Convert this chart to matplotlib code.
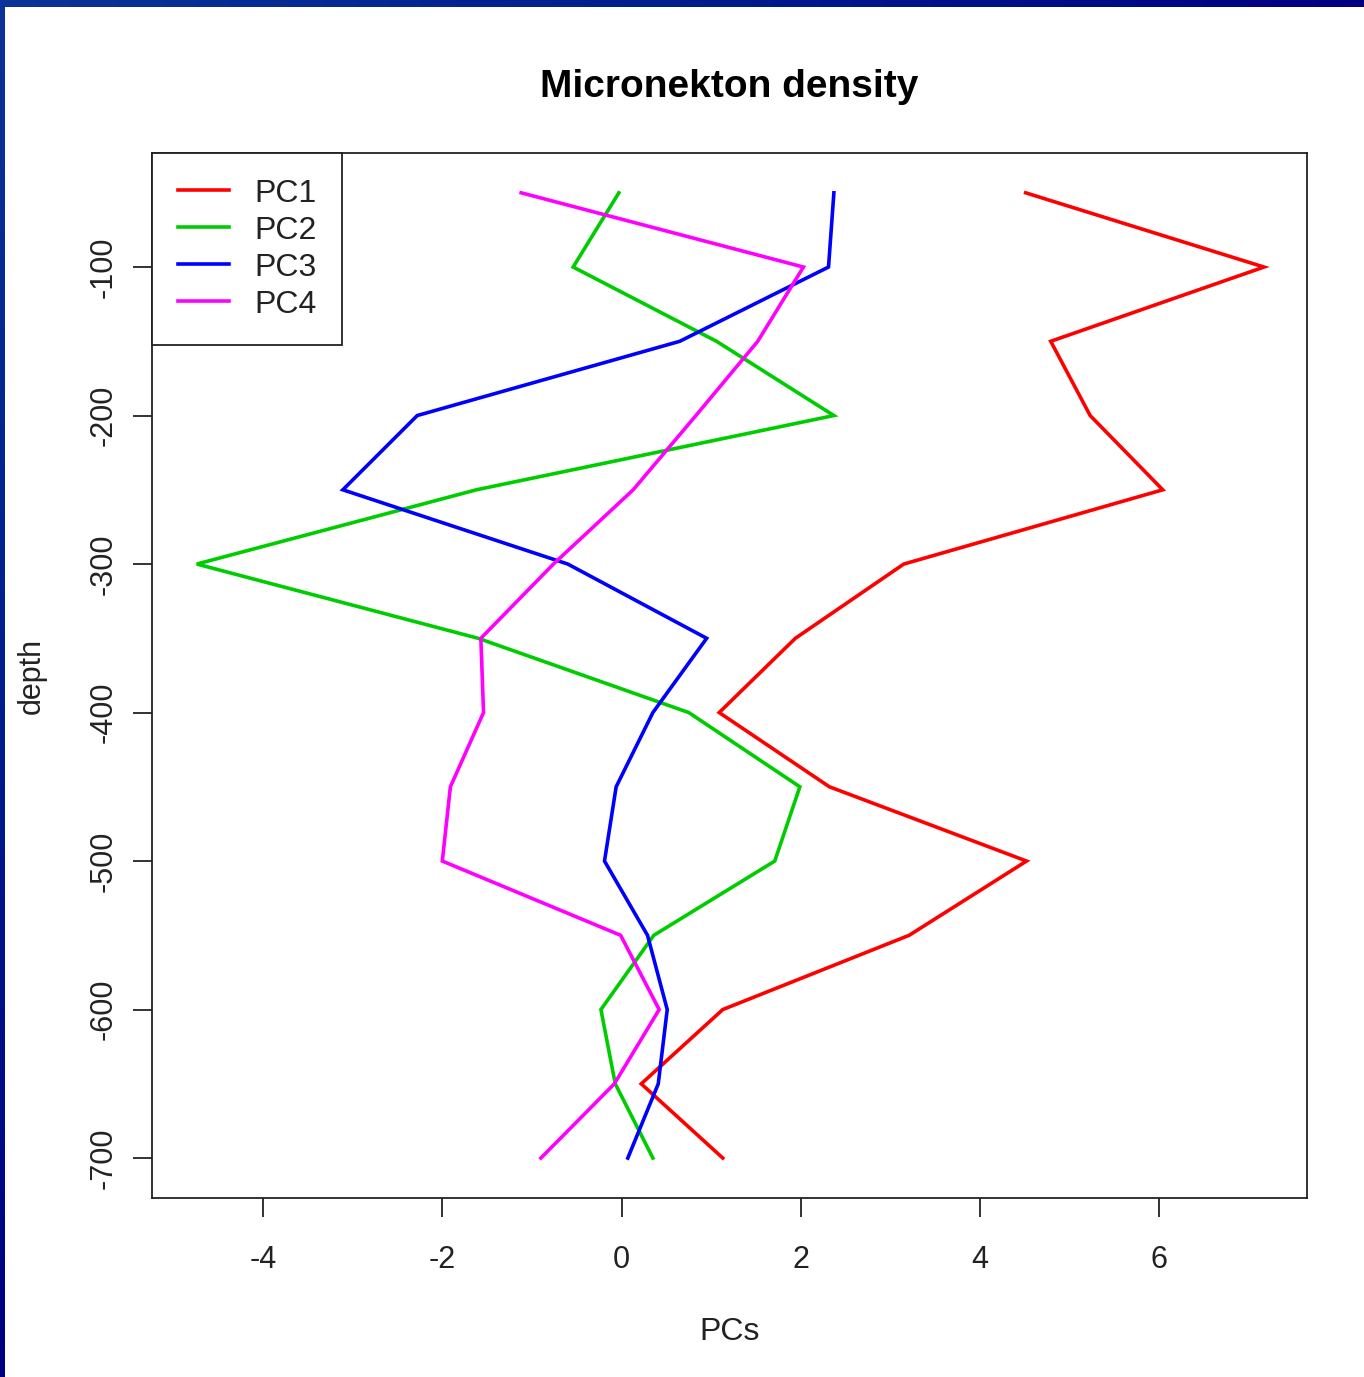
import matplotlib.pyplot as plt
import numpy as np

plt.rcParams['font.family'] = ['Liberation Sans', 'DejaVu Sans']
plt.rcParams['axes.unicode_minus'] = False

depth = [-50, -100, -150, -200, -250, -300, -350, -400, -450, -500, -550, -600, -650, -700]
pc1 = [4.51, 7.17, 4.79, 5.23, 6.04, 3.15, 1.94, 1.09, 2.32, 4.52, 3.21, 1.13, 0.22, 1.13]
pc2 = [-0.03, -0.54, 1.06, 2.37, -1.62, -4.74, -1.60, 0.75, 1.99, 1.71, 0.36, -0.23, -0.07, 0.35]
pc3 = [2.37, 2.31, 0.65, -2.28, -3.11, -0.60, 0.95, 0.35, -0.06, -0.19, 0.29, 0.51, 0.41, 0.07]
pc4 = [-1.12, 2.03, 1.52, 0.83, 0.13, -0.76, -1.57, -1.54, -1.91, -2.00, -0.01, 0.42, -0.08, -0.90]

names = ['PC1', 'PC2', 'PC3', 'PC4']
colors = ['#FF0000', '#00CD00', '#0000FF', '#FF00FF']
txt = '#222222'

fig = plt.figure(figsize=(13.64, 13.77), dpi=100)
ax = fig.add_axes([152/1364, 1 - 1198/1377, (1307-152)/1364, (1198-153)/1377])

for vals, name, col in zip([pc1, pc2, pc3, pc4], names, colors):
    ax.plot(vals, depth, color=col, lw=2.6, label=name, solid_joinstyle='miter')

ax.set_xlim(-5.24, 7.65)
ax.set_ylim(-726.9, -23.2)
ax.set_xticks([-4, -2, 0, 2, 4, 6])
ax.set_yticks([-100, -200, -300, -400, -500, -600, -700])
ax.set_yticklabels(['-100', '-200', '-300', '-400', '-500', '-600', '-700'],
                   rotation=90, va='center')
ax.tick_params(direction='out', length=14, width=1.3, labelsize=22,
               colors=txt, pad=20)
ax.tick_params(axis='y', pad=10)
for s in ax.spines.values():
    s.set_linewidth(1.3)
    s.set_color(txt)

ax.set_xlabel('PCs', fontsize=23, labelpad=30, color=txt)
ax.set_ylabel('depth', fontsize=22, labelpad=30, color=txt)
ax.set_title('Micronekton density', fontsize=28, fontweight='bold', pad=40)

leg = ax.legend(loc='upper left', borderaxespad=0, fontsize=23, frameon=True,
                fancybox=False, edgecolor=txt, framealpha=1,
                handlelength=1.6, handletextpad=0.8, labelspacing=0.22,
                borderpad=0.8)
leg.get_frame().set_linewidth(1.3)
for t in leg.get_texts():
    t.set_color(txt)

# slide border strips along the top and left edges
cmap = plt.matplotlib.colors.LinearSegmentedColormap.from_list(
    'border', ['#0c3399', '#001e8c', '#000080'])
grad = np.linspace(0, 1, 256).reshape(1, -1)
top = fig.add_axes([0, 1 - 7/1377, 1, 7/1377])
top.imshow(grad, aspect='auto', cmap=cmap)
top.axis('off')
left = fig.add_axes([0, 0, 5/1364, 1])
left.imshow(grad.T, aspect='auto', cmap=cmap, origin='upper')
left.axis('off')

fig.savefig('out.png', dpi=100)
